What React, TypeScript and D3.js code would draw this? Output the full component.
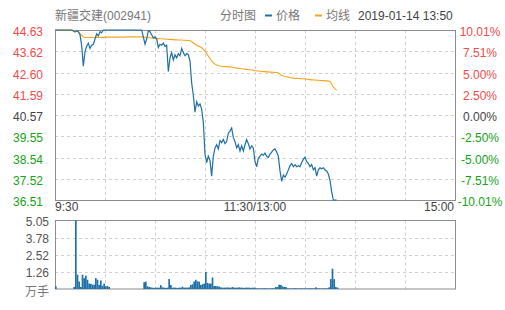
import React from "react";
import * as d3 from "d3";

const title = "新疆交建(002941)";
const chartKind = "分时图";
const legendPrice = "价格";
const legendAvg = "均线";
const stamp = "2019-01-14 13:50";
const prevClose = 40.57;
const priceTicks = [44.63, 43.62, 42.6, 41.59, 40.57, 39.55, 38.54, 37.52, 36.51];
const pctTicks = ["10.01%", "7.51%", "5.00%", "2.50%", "0.00%", "-2.50%", "-5.00%", "-7.51%", "-10.01%"];
const volTicks = [5.05, 3.78, 2.52, 1.26];
const volUnit = "万手";
const timeLabels = ["9:30", "11:30/13:00", "15:00"];
const timeLabelMinutes = [0, 120, 240];

// one value per minute from 9:30
const prices = [
  44.63, 44.63, 44.63, 44.63, 44.63, 44.63, 44.63, 44.63, 44.63, 44.63, 44.63,
  44.58, 44.53, 44.6, 44.55, 44.4, 43.9, 42.9, 43.6, 43.85, 44.0, 43.75, 43.9, 43.95, 44.2, 44.45, 44.35, 44.55, 44.5, 44.63,
  44.63, 44.63, 44.63, 44.63, 44.63, 44.63, 44.63, 44.63, 44.63, 44.63, 44.63, 44.63, 44.63, 44.63, 44.63, 44.63, 44.63, 44.63, 44.63, 44.63, 44.63, 44.63, 44.63,
  44.3, 43.95, 44.2, 44.6, 44.55, 44.4, 44.25, 44.3, 44.2, 43.8, 43.95, 43.9, 44.0, 43.85, 43.9, 42.65, 43.3, 43.55, 43.2, 43.45, 43.3, 43.5, 43.4, 43.75, 43.55, 43.4, 43.5, 43.45,
  43.15, 42.1, 41.5, 40.7, 41.2, 41.0, 41.1, 40.85, 40.2, 38.7, 38.3, 38.6, 38.4, 37.65, 38.6, 39.0, 39.15, 38.95, 39.35, 39.25, 39.4, 39.2,
  39.3, 39.7, 39.8, 39.95, 39.5, 39.3, 39.0, 39.15, 38.85, 39.1, 38.85, 39.15, 39.4, 39.2, 38.95, 39.1, 39.0,
  38.35, 38.1, 38.5, 38.6, 38.7, 38.65, 38.75, 38.6, 38.55, 38.7, 38.8, 38.9, 38.95, 38.8, 38.6,
  37.9, 37.4, 37.7, 37.6, 37.75, 37.95, 38.15, 38.25, 38.1, 38.2, 38.1, 38.15, 38.1, 38.3, 38.45, 38.55, 38.35, 38.25, 38.1, 38.2, 37.95, 38.05, 37.65, 37.95, 38.05, 38.0, 38.05, 37.95, 37.9, 37.75,
  37.45, 36.9, 36.51, 36.51, 36.51,
];

const avgPrices = [
  44.63, 44.63, 44.63, 44.63, 44.63, 44.63, 44.63, 44.63, 44.63, 44.63, 44.63,
  44.62, 44.6, 44.58, 44.55, 44.45, 44.38, 44.3,
  44.27, 44.27, 44.27, 44.27, 44.27, 44.27, 44.27,
  44.28, 44.28, 44.28, 44.28, 44.28,
  44.29, 44.29, 44.29, 44.29, 44.29, 44.29, 44.29, 44.29, 44.29, 44.29, 44.29, 44.29, 44.29, 44.3, 44.3, 44.3, 44.3, 44.3, 44.3, 44.3, 44.3, 44.3, 44.3,
  44.29, 44.28, 44.27, 44.27, 44.26, 44.25, 44.24, 44.23,
  44.22, 44.22, 44.21, 44.21, 44.2, 44.2, 44.19, 44.18, 44.18, 44.17, 44.17, 44.16, 44.16, 44.15, 44.15, 44.15, 44.14, 44.14, 44.13, 44.13,
  44.12, 44.08, 44.02, 43.95, 43.9, 43.86, 43.83, 43.78, 43.7, 43.62, 43.5, 43.38, 43.27, 43.15, 43.06, 43.0, 42.96, 42.93, 42.91, 42.9,
  42.89, 42.88, 42.88, 42.87, 42.87, 42.86, 42.84, 42.82, 42.81, 42.8,
  42.79, 42.78, 42.77, 42.76, 42.75, 42.74, 42.73, 42.72, 42.71,
  42.69, 42.68, 42.67, 42.66, 42.65, 42.64, 42.64, 42.63, 42.63, 42.62, 42.62, 42.61, 42.6, 42.6, 42.58,
  42.52, 42.46, 42.43, 42.41, 42.4, 42.38,
  42.36, 42.34, 42.33, 42.32, 42.32, 42.31, 42.31, 42.3, 42.3, 42.29,
  42.28, 42.27, 42.26, 42.25, 42.25, 42.24, 42.23, 42.23, 42.22, 42.22, 42.21, 42.2, 42.2, 42.19,
  42.17, 42.05, 41.9, 41.82, 41.76,
];

// volume in 万手
const volumes = [
  0.2,
  0, 0, 0, 0, 0, 0, 0, 0, 0, 0,
  0.15, 5.05, 1.05, 0.55, 0.15, 1.05, 0.8, 0.98, 0.68, 0.4, 0.38, 0.32, 0.32, 0.8, 0.68, 0.3, 0.63, 0.24, 0.4, 0.2, 0.22, 0.15,
  0, 0, 0, 0, 0, 0, 0, 0, 0, 0, 0, 0, 0, 0, 0, 0, 0, 0, 0, 0,
  0.5, 0.55, 0.2, 0.15, 0.12, 0.1, 0.08, 0.1, 0.1, 0.1, 0.28, 0.12, 0.1, 0.08, 0.1, 0.73, 0.3, 0.1, 0.1, 0.1, 0.08, 0.1, 0.1, 0.17, 0.1, 0.1, 0.1, 0.12,
  0.3, 0.35, 0.55, 0.68, 0.56, 0.54, 0.3, 0.35, 0.4, 1.25, 0.45, 0.4, 0.4, 0.85, 0.22, 0.22, 0.2, 0.18, 0.12,
  0.1, 0.1, 0.1, 0.12, 0.1, 0.1, 0.15, 0.1, 0.1, 0.1, 0.12, 0.1, 0.1, 0.08, 0.1, 0.1, 0.1, 0.08, 0.1, 0.1,
  0.06, 0.05, 0.05, 0.04, 0.05, 0.06, 0.05, 0.05, 0.04, 0.05, 0.06, 0.05,
  0.15, 0.15, 0.32, 0.3, 0.2, 0.15, 0.15,
  0.05, 0.05, 0.04, 0.05, 0.05, 0.06, 0.05, 0.04, 0.05, 0.05, 0.05, 0.04, 0.05, 0.05, 0.06, 0.05, 0.05,
  0.12,
  0.05, 0.05, 0.04, 0.05, 0.05, 0.05, 0.05,
  0.12, 0.73, 1.5, 0.73, 0.15, 0.1,
];

const FONT = "Arial, 'Liberation Sans', 'Noto Sans CJK SC', sans-serif";
const BLUE = "#1f6fa8";
const ORANGE = "#f5a51c";
const RED = "#f34a4a";
const GREEN = "#17a217";
const GRID = "#d0d0d0";
const FRAME = "#8c8c8c";

export default function App() {
  const L = 55, R = 455, T = 30, B = 200;
  const VT = 220.5, VB = 289;
  const x = d3.scaleLinear().domain([0, 240]).range([L, R]);
  const y = d3.scaleLinear().domain([priceTicks[priceTicks.length - 1], priceTicks[0]]).range([B, T]);
  const vy = d3.scaleLinear().domain([0, volTicks[0]]).range([VB, VT]);
  const step = x(1) - x(0);

  const line = d3.line<number>().x((_, i) => x(i)).y((d) => y(d));
  const vGrid = d3.range(1, 8).map((k) => L + (k * (R - L)) / 8);

  const labelColor = (v: number) => (v > prevClose ? RED : v < prevClose ? GREEN : "#444");

  return (
    <svg width={505} height={310} style={{ position: "absolute", left: 0, top: 0 }} fontFamily={FONT}>
      <rect width={505} height={310} fill="#fff" />
      {/* header */}
      <text x={55} y={20} fontSize={12} fill="#777">{title}</text>
      <text x={220} y={20} fontSize={12} fill="#777">{chartKind}</text>
      <line x1={265} x2={272} y1={15.5} y2={15.5} stroke={BLUE} strokeWidth={2} />
      <text x={276} y={20} fontSize={12} fill="#777">{legendPrice}</text>
      <line x1={315} x2={322} y1={15.5} y2={15.5} stroke={ORANGE} strokeWidth={2} />
      <text x={326} y={20} fontSize={12} fill="#777">{legendAvg}</text>
      <text x={358} y={20} fontSize={12} fill="#444">{stamp}</text>

      {/* price grid */}
      {priceTicks.slice(1, -1).map((t) => (
        <line key={"h" + t} x1={L} x2={R} y1={Math.round(y(t)) + 0.5} y2={Math.round(y(t)) + 0.5} stroke={GRID} strokeDasharray="3,3" />
      ))}
      {vGrid.map((gx) => (
        <line key={"v" + gx} x1={gx + 0.5} x2={gx + 0.5} y1={T} y2={B} stroke={GRID} strokeDasharray="3,3" />
      ))}
      {/* volume grid */}
      {volTicks.slice(1).map((t) => (
        <line key={"vh" + t} x1={L} x2={R} y1={Math.round(vy(t)) + 0.5} y2={Math.round(vy(t)) + 0.5} stroke={GRID} strokeDasharray="3,3" />
      ))}
      {vGrid.map((gx) => (
        <line key={"vv" + gx} x1={gx + 0.5} x2={gx + 0.5} y1={VT} y2={VB} stroke={GRID} strokeDasharray="3,3" />
      ))}

      {/* frames */}
      <rect x={L + 0.5} y={T + 0.5} width={R - L} height={B - T} fill="none" stroke={FRAME} />
      <rect x={L + 0.5} y={VT} width={R - L} height={VB - VT} fill="none" stroke={FRAME} />

      {/* volume bars */}
      {volumes.map((v, i) => (
        <rect key={"b" + i} x={x(i)} y={vy(v)} width={step} height={VB - vy(v)} fill={BLUE} />
      ))}

      {/* lines */}
      <path d={line(avgPrices) || ""} fill="none" stroke={ORANGE} strokeWidth={1.1} />
      <path d={line(prices) || ""} fill="none" stroke={BLUE} strokeWidth={1.2} />

      {/* left price labels */}
      {priceTicks.map((t) => (
        <text key={"pl" + t} x={43} y={y(t) + 6} fontSize={12} textAnchor="end" fill={labelColor(t)}>
          {t.toFixed(2)}
        </text>
      ))}
      {/* right pct labels */}
      {priceTicks.map((t, i) => (
        <text key={"pr" + t} x={480} y={y(t) + 6} fontSize={12} textAnchor="middle" fill={labelColor(t)}>
          {pctTicks[i]}
        </text>
      ))}
      {/* time labels */}
      {timeLabels.map((s, i) => (
        <text
          key={s}
          x={i === 2 ? x(timeLabelMinutes[i]) - 1 : x(timeLabelMinutes[i])}
          y={211}
          fontSize={12}
          fill="#444"
          textAnchor={i === 0 ? "start" : i === 1 ? "middle" : "end"}
        >
          {s}
        </text>
      ))}
      {/* volume labels */}
      {volTicks.map((t) => (
        <text key={"vl" + t} x={49} y={vy(t) + 5} fontSize={12} textAnchor="end" fill="#555">
          {t.toFixed(2)}
        </text>
      ))}
      <text x={49} y={296} fontSize={12} textAnchor="end" fill="#777">{volUnit}</text>
    </svg>
  );
}
